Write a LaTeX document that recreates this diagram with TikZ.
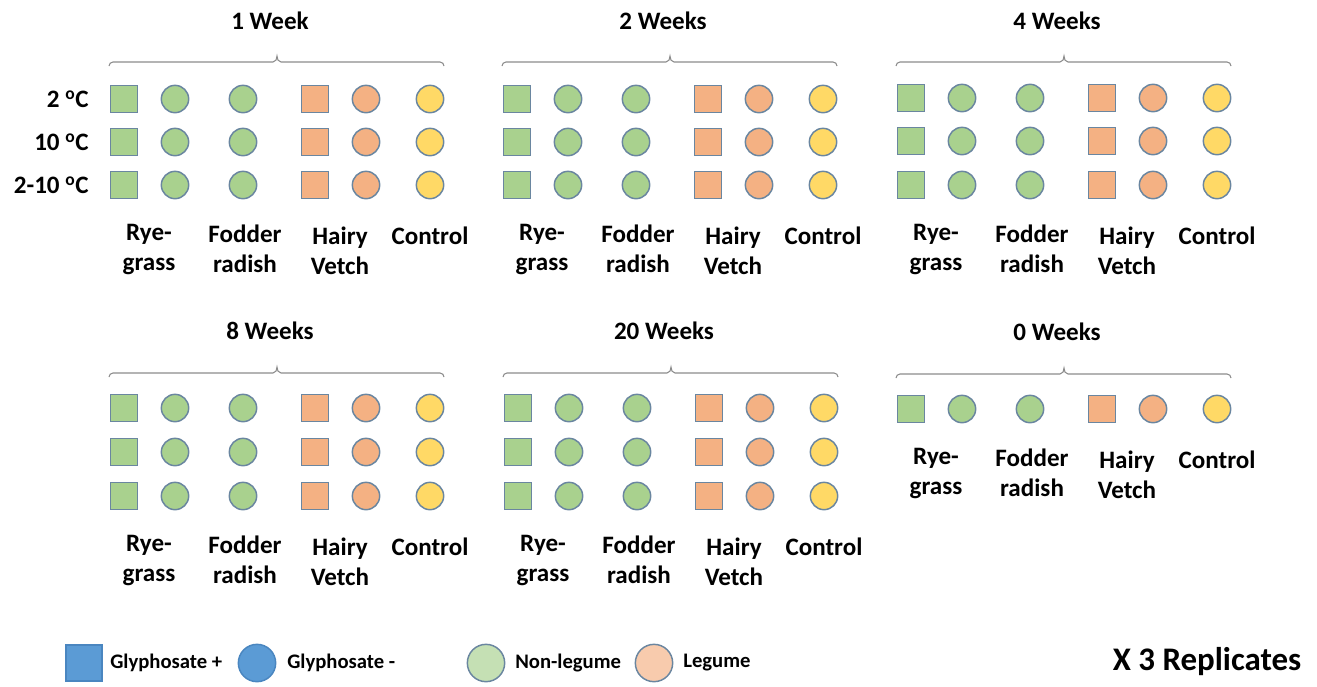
\documentclass[tikz,border=0pt]{standalone}
\usepackage{fontspec}
\setmainfont{Carlito}
\definecolor{gfill}{HTML}{A9D18E}
\definecolor{ofill}{HTML}{F4B183}
\definecolor{yfill}{HTML}{FFD966}
\definecolor{edgec}{HTML}{6A86A0}
\definecolor{bracec}{HTML}{8C8C8C}
\definecolor{bluef}{HTML}{5B9BD5}
\definecolor{bluee}{HTML}{4A86C0}
\definecolor{lgfill}{HTML}{C5E0B4}
\definecolor{lofill}{HTML}{F8CBAD}
\newcommand\DrawPanel[7]{%
  % #1 id, #2 origin x, #3 title, #4 title y, #5 brace y, #6 row ys, #7 label centre y
  \node[ttl] (#1t) at (#2+146,#4) {#3};
  \draw[bracestyle] (#2-15,#5+4) to[out=90,in=180] (#2-11,#5) -- (#2+149,#5)
    to[out=0,in=-90] (#2+153,#5-6) to[out=-90,in=180] (#2+157,#5) -- (#2+316,#5)
    to[out=0,in=90] (#2+320,#5+4);
  \foreach \ry [count=\r] in {#6} {
    \node[sq, fill=gfill] (#1r\r-a) at (#2,\ry) {};
    \node[ci, fill=gfill] (#1r\r-b) at (#2+51,\ry) {};
    \node[ci, fill=gfill] (#1r\r-c) at (#2+119,\ry) {};
    \node[sq, fill=ofill] (#1r\r-d) at (#2+191,\ry) {};
    \node[ci, fill=ofill] (#1r\r-e) at (#2+242,\ry) {};
    \node[ci, fill=yfill] (#1r\r-f) at (#2+306,\ry) {};
  }
  \node[lab] (#1l1) at (#2+25,#7) {Rye-\\grass};
  \node[lab] (#1l2) at (#2+121,#7) {Fodder\\radish};
  \node[lab] (#1l3) at (#2+216,#7+2) {Hairy\\Vetch};
  \node[lab] (#1l4) at (#2+306,#7-13) {Control};
}
\begin{document}
\begin{tikzpicture}[x=0.75pt,y=-0.75pt,
  ttl/.style={font=\fontsize{18.8}{22.5}\selectfont\bfseries, inner sep=0pt},
  lab/.style={font=\fontsize{18.8}{22.5}\selectfont\bfseries, align=center, inner sep=0pt},
  leg/.style={font=\fontsize{15.5}{18}\selectfont\bfseries, anchor=west, inner sep=0pt},
  bracestyle/.style={draw=bracec, line width=0.8pt},
  sq/.style={draw=edgec, line width=1.1pt, minimum size=20pt, inner sep=0pt, rectangle},
  ci/.style={draw=edgec, line width=1.1pt, minimum size=20.5pt, inner sep=0pt, circle},
]
\useasboundingbox (0,0) rectangle (1317,686);
\DrawPanel{pa}{124}{1 Week}{21}{62}{99,142,185}{249}
\DrawPanel{pb}{517}{2 Weeks}{21}{62}{99,142,185}{249}
\DrawPanel{pc}{911}{4 Weeks}{21}{62}{98,141,185}{249}
\DrawPanel{pd}{124}{8 Weeks}{331}{373}{408,452,496}{560}
\DrawPanel{pe}{518}{20 Weeks}{331}{373}{408,452,496}{560}
\DrawPanel{pf}{911}{0 Weeks}{332}{374}{409}{473}
\node[lab, anchor=east] (rl1) at (89,99) {2 \textsuperscript{o}C};
\node[lab, anchor=east] (rl2) at (89,142) {10 \textsuperscript{o}C};
\node[lab, anchor=east] (rl3) at (89,185) {2-10 \textsuperscript{o}C};
% legend
\node[rectangle, draw=bluee, line width=1.1pt, fill=bluef, minimum width=27pt, minimum height=27pt, inner sep=0pt] (lg1) at (84,663) {};
\node[leg] (lt1) at (110,663) {Glyphosate +};
\node[circle, draw=bluee, line width=1.1pt, fill=bluef, minimum size=28pt, inner sep=0pt] (lg2) at (257,663) {};
\node[leg] (lt2) at (287,663) {Glyphosate -};
\node[circle, draw=edgec, line width=1.1pt, fill=lgfill, minimum size=28pt, inner sep=0pt] (lg3) at (486,663) {};
\node[leg] (lt3) at (515,663) {Non-legume};
\node[circle, draw=edgec, line width=1.1pt, fill=lofill, minimum size=28pt, inner sep=0pt] (lg4) at (654,663) {};
\node[leg] (lt4) at (683,663) {Legume};
\node[font=\fontsize{24.7}{28}\selectfont\bfseries, inner sep=0pt] (rep) at (1207,662) {X 3 Replicates};
\end{tikzpicture}
\end{document}
